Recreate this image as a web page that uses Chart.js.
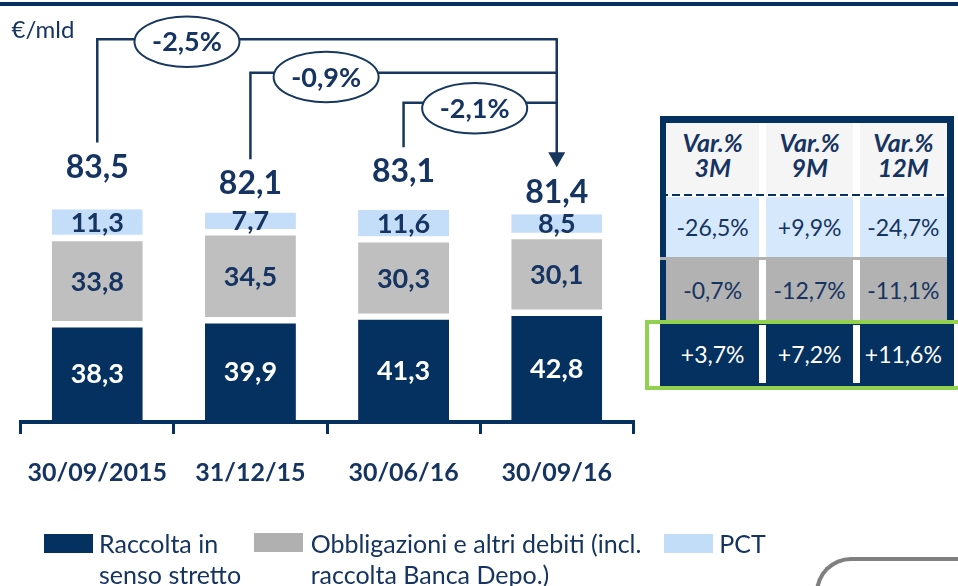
<!DOCTYPE html>
<html><head><meta charset="utf-8">
<script src="https://cdn.jsdelivr.net/npm/chart.js@4.4.0/dist/chart.umd.min.js"></script>
<style>
html,body{margin:0;padding:0;background:#fff;width:958px;height:586px;overflow:hidden;font-family:Lato,sans-serif;}
#wrap{position:relative;width:958px;height:586px;}
#c{position:absolute;left:0;top:0;}
.abs{position:absolute;box-sizing:border-box;}
.txt{white-space:pre;color:#163461;}
.cell{display:flex;align-items:center;justify-content:center;font-size:23px;white-space:nowrap;}
.hdr{font-weight:bold;font-style:italic;font-size:25px;line-height:25px;text-align:center;white-space:pre;color:#163461;}
</style></head><body>
<div id="wrap">
<canvas id="c" width="958" height="586"></canvas>
<div id="overlay"></div>
</div>
<script>
// ---------- DATA ----------
const categories = ['30/09/2015', '31/12/15', '30/06/16', '30/09/16'];
const coreDeposits = [38.3, 39.9, 41.3, 42.8];   // Raccolta in senso stretto
const bonds = [33.8, 34.5, 30.3, 30.1];          // Obbligazioni e altri debiti
const pct = [11.3, 7.7, 11.6, 8.5];              // PCT
const totals = [83.5, 82.1, 83.1, 81.4];
const changesToLast = ['-2,5%', '-0,9%', '-2,1%'];
const seriesNames = ['Raccolta in\nsenso stretto', 'Obbligazioni e altri debiti (incl.\nraccolta Banca Depo.)', 'PCT'];
const unitLabel = '€/mld';
const tableHeaders = ['Var.%\n3M', 'Var.%\n9M', 'Var.%\n12M'];
const pctVar = ['-26,5%', '+9,9%', '-24,7%'];
const bondsVar = ['-0,7%', '-12,7%', '-11,1%'];
const coreVar = ['+3,7%', '+7,2%', '+11,6%'];

// ---------- STYLE ----------
const NAVY = '#04315f';
const GRAY = '#bfbfbf';
const LBLUE = '#c4defa';
const TEXT = '#163461';
const LINE = '#17375e';
const fmt = v => v.toFixed(1).replace('.', ',');

const GAP = 3.2;
const segLabels = {
  id: 'segLabels',
  afterDatasetsDraw(chart) {
    const ctx = chart.ctx;
    ctx.save();
    ctx.textAlign = 'center';
    ctx.textBaseline = 'alphabetic';
    ctx.font = 'bold 27px Lato';
    [0, 1, 2].forEach(di => {
      const meta = chart.getDatasetMeta(di);
      const ds = chart.data.datasets[di];
      const bw = ds.borderWidth;
      meta.data.forEach((bar, i) => {
        const top = bar.y + bw.top, bottom = Math.min(bar.base - bw.bottom, chart.chartArea.bottom - 2);
        const cy = (top + bottom) / 2;
        ctx.fillStyle = di === 0 ? '#ffffff' : TEXT;
        ctx.fillText(fmt(ds.data[i]), bar.x, cy + 0.36 * 27);
      });
    });
    const tm = chart.getDatasetMeta(3).data;
    ctx.font = 'bold 32px Lato';
    ctx.fillStyle = TEXT;
    tm.forEach((pt, i) => ctx.fillText(fmt(totals[i]), pt.x, pt.y + 0.36 * 32));
    ctx.restore();
  }
};

// connector layout (annotation only)
const BRACKET_Y = [39.3, 72.7, 102.7];
const ELLIPSE_DX = [89.7, 75.7, 71.1];
const ELLIPSE_CY = [41.7, 77, 108.3];
const RX = 52.5, RY = 25.3;
const connectors = {
  id: 'connectors',
  afterDraw(chart) {
    const ctx = chart.ctx;
    const tm = chart.getDatasetMeta(3).data;
    const last = tm[tm.length - 1];
    ctx.save();
    ctx.strokeStyle = LINE;
    ctx.fillStyle = LINE;
    ctx.lineWidth = 2.5;
    ctx.lineCap = 'butt';
    ctx.lineJoin = 'miter';
    for (let i = 0; i < 3; i++) {
      const p = tm[i];
      ctx.beginPath();
      ctx.moveTo(p.x, p.y - 23.5);
      ctx.lineTo(p.x, BRACKET_Y[i]);
      ctx.lineTo(last.x, BRACKET_Y[i]);
      ctx.stroke();
    }
    const tipY = last.y - 24;
    ctx.beginPath();
    ctx.moveTo(last.x, BRACKET_Y[0] - 1.2);
    ctx.lineTo(last.x, tipY - 14);
    ctx.stroke();
    ctx.beginPath();
    ctx.moveTo(last.x - 8.5, tipY - 15);
    ctx.lineTo(last.x + 8.5, tipY - 15);
    ctx.lineTo(last.x, tipY);
    ctx.closePath();
    ctx.fill();
    ctx.textAlign = 'center';
    ctx.textBaseline = 'alphabetic';
    ctx.font = 'bold 27px Lato';
    for (let i = 0; i < 3; i++) {
      const cx = tm[i].x + ELLIPSE_DX[i], cy = ELLIPSE_CY[i];
      ctx.beginPath();
      ctx.ellipse(cx, cy, RX, RY, 0, 0, Math.PI * 2);
      ctx.fillStyle = '#ffffff';
      ctx.fill();
      ctx.lineWidth = 2;
      ctx.strokeStyle = LINE;
      ctx.stroke();
      ctx.fillStyle = TEXT;
      ctx.fillText(changesToLast[i], cx, cy + 0.36 * 27);
    }
    ctx.restore();
  }
};

const chart = new Chart(document.getElementById('c'), {
  type: 'bar',
  data: {
    labels: categories,
    datasets: [
      { label: seriesNames[0], data: coreDeposits, backgroundColor: NAVY, borderColor: '#ffffff',
        borderWidth: { top: GAP, bottom: 0, left: 0, right: 0 }, borderSkipped: false, inflateAmount: 0 },
      { label: seriesNames[1], data: bonds, backgroundColor: GRAY, borderColor: '#ffffff',
        borderWidth: { top: GAP, bottom: GAP, left: 0, right: 0 }, borderSkipped: false, inflateAmount: 0 },
      { label: seriesNames[2], data: pct, backgroundColor: LBLUE, borderColor: '#ffffff',
        borderWidth: { top: 0, bottom: GAP, left: 0, right: 0 }, borderSkipped: false, inflateAmount: 0 },
      { type: 'line', label: 'Totale', data: totals, yAxisID: 'y2', showLine: false,
        pointRadius: 0, pointHoverRadius: 0 }
    ]
  },
  options: {
    responsive: false, animation: false, devicePixelRatio: 1,
    layout: { padding: { left: 20.7, right: 324.7, top: 10, bottom: 100 } },
    plugins: { legend: { display: false }, tooltip: { enabled: false } },
    datasets: { bar: { categoryPercentage: 1, barPercentage: 0.594 } },
    scales: {
      x: {
        stacked: true,
        grid: { display: true, drawOnChartArea: false, drawTicks: true, tickLength: 12, color: NAVY, lineWidth: 3, offset: true },
        border: { display: true, color: NAVY, width: 4 },
        ticks: { color: TEXT, font: { family: 'Lato', size: 25, weight: 'bold' }, padding: 24, maxRotation: 0, autoSkip: false }
      },
      y: { stacked: true, display: false, min: 0, max: 161.5 },
      y2: { display: false, min: 62.17, max: 96.5 }
    }
  },
  plugins: [segLabels, connectors]
});
// adjust chart area bottom to target
const diff = chart.chartArea.bottom - 422;
if (Math.abs(diff) > 0.1) { chart.options.layout.padding.bottom += diff; chart.update(); }

// ---------- HTML overlay (table, legend, decorations) ----------
const ov = document.getElementById('overlay');
function add(style, text, cls) {
  const d = document.createElement('div');
  d.className = 'abs' + (cls ? ' ' + cls : '');
  Object.assign(d.style, style);
  if (text != null) d.textContent = text;
  ov.appendChild(d);
  return d;
}
// top rule
add({ left: '0px', top: '2px', width: '958px', height: '4px', background: NAVY });
// unit label
add({ left: '11.5px', top: '13.6px', fontSize: '24px' }, unitLabel, 'txt');

// table
const colX = [666, 766, 860], colW = [93.3, 87.3, 86.7];
add({ left: '660px', top: '116px', width: '294px', height: '270px', background: NAVY });
add({ left: '666px', top: '123.3px', width: '280.7px', height: '196.7px', background: '#ffffff' });
for (let c = 0; c < 3; c++) {
  add({ left: colX[c] + 'px', top: '123.3px', width: colW[c] + 'px', height: '71px', background: '#f5f5f5' });
  add({ left: colX[c] + 'px', top: '129.5px', width: colW[c] + 'px' }, tableHeaders[c], 'hdr');
  add({ left: colX[c] + 'px', top: '196.5px', width: colW[c] + 'px', height: '60.5px', background: '#d5e8fc', color: TEXT }, pctVar[c], 'cell');
  add({ left: colX[c] + 'px', top: '259.5px', width: colW[c] + 'px', height: '60.5px', background: '#b2b2b2', color: TEXT }, bondsVar[c], 'cell');
  add({ left: colX[c] + 'px', top: '325px', width: colW[c] + 'px', height: '58px', background: NAVY, color: '#ffffff' }, coreVar[c], 'cell');
}
// white column gaps in the navy row
add({ left: '759.3px', top: '325px', width: '6.7px', height: '57.7px', background: '#ffffff' });
add({ left: '853.3px', top: '325px', width: '6.7px', height: '57.7px', background: '#ffffff' });
add({ left: '660px', top: '257px', width: '287px', height: '3px', background: '#b2b2b2' });
// dashed separator
add({ left: '660px', top: '193.8px', width: '287px', height: '2.5px',
      background: 'repeating-linear-gradient(90deg,' + NAVY + ' 0 8px, transparent 8px 12px)' });
// green highlight box
add({ left: '645px', top: '319.5px', width: '340px', height: '70.5px', border: '4px solid #92d050' });

// legend
const legendSq = [{ x: 44, y: 534, c: NAVY }, { x: 254, y: 532.7, c: '#b0b0b0' }, { x: 664, y: 534, c: '#c2ddf8' }];
const legendTx = [99, 310.7, 719.3];
for (let i = 0; i < 3; i++) {
  add({ left: legendSq[i].x + 'px', top: legendSq[i].y + 'px', width: '49px', height: '19px', background: legendSq[i].c });
  add({ left: legendTx[i] + 'px', top: '527.8px', fontSize: '25px', lineHeight: '31px' }, seriesNames[i], 'txt');
}
// partial rounded frame bottom right
add({ left: '815px', top: '556.5px', width: '200px', height: '100px', borderTop: '4px solid #7f7f7f',
      borderLeft: '4px solid #7f7f7f', borderTopLeftRadius: '36px' });
</script>
</body></html>
